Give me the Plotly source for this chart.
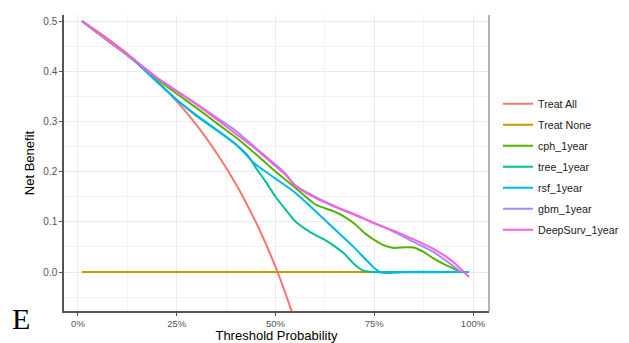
import plotly.graph_objects as go

# ---- data ----
x_all = [0.01, 0.05, 0.10, 0.15, 0.20, 0.25, 0.30, 0.35, 0.40, 0.45, 0.475, 0.50, 0.525, 0.54, 0.55]
y_all = [0.500, 0.479, 0.450, 0.418, 0.381, 0.340, 0.293, 0.238, 0.175, 0.100, 0.057, 0.010, -0.042, -0.076, -0.100]

x_none = [0.01, 0.99]
y_none = [0.0, 0.0]

x_cph = [0.01, 0.05, 0.10, 0.15, 0.20, 0.25, 0.30, 0.35, 0.40, 0.45, 0.50, 0.55, 0.60, 0.625, 0.65,
         0.675, 0.70, 0.725, 0.75, 0.775, 0.80, 0.825, 0.85, 0.875, 0.90, 0.925, 0.95, 0.97]
y_cph = [0.500, 0.476, 0.447, 0.418, 0.385, 0.355, 0.327, 0.297, 0.268, 0.235, 0.200, 0.168, 0.135, 0.127, 0.120,
         0.110, 0.096, 0.078, 0.064, 0.053, 0.048, 0.049, 0.049, 0.040, 0.027, 0.016, 0.007, 0.0]

x_tree = [0.01, 0.05, 0.10, 0.15, 0.20, 0.25, 0.30, 0.35, 0.40, 0.43, 0.45, 0.475, 0.50, 0.525, 0.55,
          0.575, 0.60, 0.625, 0.65, 0.675, 0.70, 0.725, 0.75, 0.99]
y_tree = [0.500, 0.476, 0.447, 0.416, 0.379, 0.343, 0.311, 0.283, 0.254, 0.232, 0.208, 0.180, 0.150, 0.125, 0.101,
          0.086, 0.074, 0.064, 0.051, 0.036, 0.015, 0.002, 0.0, 0.0]

x_rsf = [0.01, 0.05, 0.10, 0.15, 0.20, 0.25, 0.30, 0.35, 0.40, 0.45, 0.50, 0.55, 0.60, 0.65, 0.70,
         0.75, 0.765, 0.79, 0.82, 0.99]
y_rsf = [0.500, 0.476, 0.447, 0.416, 0.379, 0.343, 0.312, 0.284, 0.254, 0.214, 0.186, 0.158, 0.122, 0.085, 0.048,
         0.008, 0.0, -0.002, 0.0, 0.0]

x_gbm = [0.01, 0.05, 0.10, 0.15, 0.20, 0.25, 0.30, 0.35, 0.40, 0.45, 0.50, 0.525, 0.55, 0.60, 0.65,
         0.70, 0.75, 0.80, 0.85, 0.90, 0.95, 0.97]
y_gbm = [0.500, 0.476, 0.447, 0.418, 0.387, 0.361, 0.335, 0.308, 0.281, 0.247, 0.214, 0.196, 0.173, 0.150, 0.131,
         0.114, 0.098, 0.080, 0.060, 0.040, 0.012, 0.0]

x_deep = [0.01, 0.05, 0.10, 0.15, 0.20, 0.25, 0.30, 0.35, 0.40, 0.45, 0.50, 0.525, 0.55, 0.60, 0.65,
          0.70, 0.75, 0.80, 0.85, 0.90, 0.95, 0.99]
y_deep = [0.500, 0.476, 0.447, 0.418, 0.387, 0.360, 0.334, 0.305, 0.275, 0.245, 0.211, 0.194, 0.172, 0.148, 0.130,
          0.115, 0.097, 0.082, 0.065, 0.046, 0.020, -0.010]

names = ["Treat All", "Treat None", "cph_1year", "tree_1year", "rsf_1year", "gbm_1year", "DeepSurv_1year"]
colors = ["#F8766D", "#C49A00", "#53B400", "#00C094", "#00B6EB", "#A58AFF", "#FB61D7"]
xs = [x_all, x_none, x_cph, x_tree, x_rsf, x_gbm, x_deep]
ys = [y_all, y_none, y_cph, y_tree, y_rsf, y_gbm, y_deep]

fig = go.Figure()
for i, (n, c, xv, yv) in enumerate(zip(names, colors, xs, ys)):
    fig.add_trace(go.Scatter(
        x=xv, y=yv, name=n, mode="lines",
        line=dict(color=c, width=2, shape="spline", smoothing=0.6),
        legendgroup=n,
    ))

font_family = "Liberation Sans, Arial, sans-serif"
fig.update_layout(
    width=621, height=335,
    margin=dict(l=56, r=140, t=7, b=32, autoexpand=False),
    paper_bgcolor="white", plot_bgcolor="white",
    font=dict(family=font_family, size=10, color="#4D4D4D"),
    showlegend=True,
    legend=dict(
        x=1.0212, xanchor="left", y=0.487, yanchor="middle",
        font=dict(size=10.7, color="#1A1A1A", family=font_family),
        tracegroupgap=2, bgcolor="rgba(0,0,0,0)",
    ),
    xaxis=dict(
        range=[-0.0354, 1.0405], tick0=0, dtick=0.25, tickformat=".0%",
        showgrid=True, gridcolor="#EBEBEB", gridwidth=1,
        minor=dict(dtick=0.125, tick0=0, showgrid=True, gridcolor="#F3F3F3", gridwidth=0.6),
        showline=True, linecolor="#555555", linewidth=1.5,
        ticks="outside", ticklen=3, tickcolor="#555555",
        zeroline=False, automargin=False,
        tickfont=dict(size=9.5, color="#555555"),
        title=dict(text="Threshold Probability", font=dict(size=13, color="#000000"), standoff=3),
    ),
    yaxis=dict(
        range=[-0.0777, 0.512], tick0=0, dtick=0.1, tickformat=".1f",
        showgrid=True, gridcolor="#EBEBEB", gridwidth=1,
        minor=dict(dtick=0.05, tick0=0, showgrid=True, gridcolor="#F3F3F3", gridwidth=0.6),
        showline=True, linecolor="#555555", linewidth=1.5,
        ticks="outside", ticklen=3, tickcolor="#555555",
        zeroline=False, automargin=False,
        tickfont=dict(size=10, color="#555555"),
        title=dict(text="Net Benefit", font=dict(size=13, color="#000000"), standoff=6),
    ),
    shapes=[dict(type="line", xref="paper", yref="paper", x0=1, x1=1, y0=0, y1=1,
                 line=dict(color="#9A9A9A", width=1.5))],
    annotations=[dict(text="E", xref="paper", yref="paper", x=-0.127, y=-0.026,
                      xanchor="left", yanchor="middle", showarrow=False,
                      font=dict(family="Liberation Serif, Times New Roman, serif", size=30, color="#000000"))],
)

fig.write_html("out.html", config={"displayModeBar": False})
